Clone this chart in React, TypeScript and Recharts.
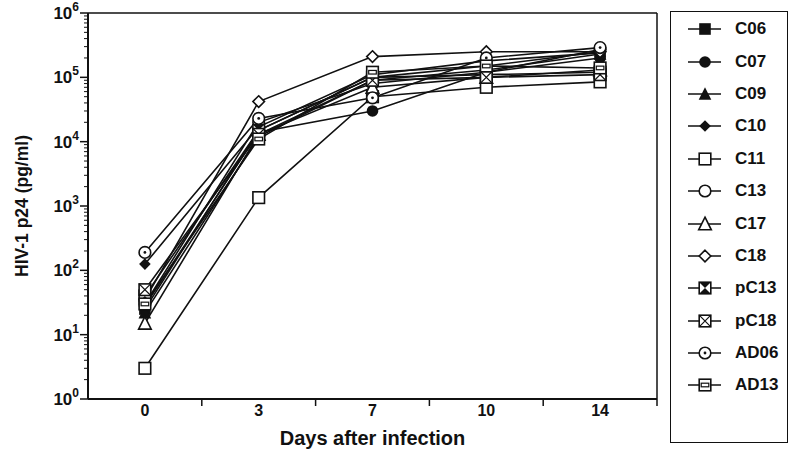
import React from "react"
import { LineChart, Line, XAxis, YAxis, ReferenceLine } from "recharts"

// days after infection (categories)
const DAYS = ["0", "3", "7", "10", "14"]

// HIV-1 p24 (pg/ml) per virus isolate
const C06 = [25, 15000, 100000, 150000, 250000]
const C07 = [28, 14000, 30000, 120000, 200000]
const C09 = [22, 12000, 90000, 130000, 230000]
const C10 = [125, 17000, 110000, 180000, 240000]
const C11 = [3, 1350, 50000, 70000, 85000]
const C13 = [30, 20000, 80000, 120000, 270000]
const C17 = [15, 13000, 70000, 100000, 130000]
const C18 = [35, 42000, 210000, 250000, 250000]
const pC13 = [40, 15000, 100000, 110000, 120000]
const pC18 = [50, 13000, 90000, 100000, 110000]
const AD06 = [190, 23000, 48000, 200000, 290000]
const AD13 = [30, 11000, 120000, 150000, 140000]

const SERIES: { name: string; values: number[]; marker: string }[] = [
  { name: "C06", values: C06, marker: "squareFilled" },
  { name: "C07", values: C07, marker: "circleFilled" },
  { name: "C09", values: C09, marker: "triangleFilled" },
  { name: "C10", values: C10, marker: "diamondFilled" },
  { name: "C11", values: C11, marker: "square" },
  { name: "C13", values: C13, marker: "circle" },
  { name: "C17", values: C17, marker: "triangle" },
  { name: "C18", values: C18, marker: "diamond" },
  { name: "pC13", values: pC13, marker: "hourglass" },
  { name: "pC18", values: pC18, marker: "squareX" },
  { name: "AD06", values: AD06, marker: "circleDot" },
  { name: "AD13", values: AD13, marker: "squareBar" },
]

const data = DAYS.map((d, i) => {
  const row: any = { i, day: d }
  SERIES.forEach((s) => (row[s.name] = s.values[i]))
  return row
})

// minor log ticks 2..9 x 10^k plus the decades
const yTicks: number[] = []
for (let e = 0; e < 6; e++) {
  for (let m = 1; m < 10; m++) yTicks.push(m * Math.pow(10, e))
}
yTicks.push(1000000)

const xTicks = [0, 0.5, 1, 1.5, 2, 2.5, 3, 3.5, 4, 4.5]

const FONT = "'Liberation Sans', Arial, Helvetica, sans-serif"
const INK = "#111"

function Marker({ kind, cx, cy }: { kind: string; cx: number; cy: number }) {
  const r = 5.8
  const sw = 1.6
  switch (kind) {
    case "squareFilled":
      return <rect x={cx - r} y={cy - r} width={2 * r} height={2 * r} fill={INK} />
    case "circleFilled":
      return <circle cx={cx} cy={cy} r={r} fill={INK} />
    case "triangleFilled":
      return <polygon points={`${cx},${cy - r - 1} ${cx + r + 0.5},${cy + r} ${cx - r - 0.5},${cy + r}`} fill={INK} />
    case "diamondFilled":
      return <polygon points={`${cx},${cy - r} ${cx + r},${cy} ${cx},${cy + r} ${cx - r},${cy}`} fill={INK} />
    case "square":
      return <rect x={cx - r} y={cy - r} width={2 * r} height={2 * r} fill="#fff" stroke={INK} strokeWidth={sw} />
    case "circle":
      return <circle cx={cx} cy={cy} r={r} fill="#fff" stroke={INK} strokeWidth={sw} />
    case "triangle":
      return <polygon points={`${cx},${cy - r - 1} ${cx + r + 0.5},${cy + r} ${cx - r - 0.5},${cy + r}`} fill="#fff" stroke={INK} strokeWidth={sw} />
    case "diamond":
      return <polygon points={`${cx},${cy - r} ${cx + r},${cy} ${cx},${cy + r} ${cx - r},${cy}`} fill="#fff" stroke={INK} strokeWidth={sw} />
    case "hourglass":
      return (
        <g>
          <rect x={cx - r} y={cy - r} width={2 * r} height={2 * r} fill="#fff" stroke={INK} strokeWidth={sw} />
          <polygon points={`${cx - r},${cy - r} ${cx + r},${cy - r} ${cx},${cy}`} fill={INK} />
          <polygon points={`${cx - r},${cy + r} ${cx + r},${cy + r} ${cx},${cy}`} fill={INK} />
        </g>
      )
    case "squareX":
      return (
        <g>
          <rect x={cx - r} y={cy - r} width={2 * r} height={2 * r} fill="#fff" stroke={INK} strokeWidth={sw} />
          <path d={`M${cx - r},${cy - r}L${cx + r},${cy + r}M${cx + r},${cy - r}L${cx - r},${cy + r}`} stroke={INK} strokeWidth={1.2} />
        </g>
      )
    case "circleDot":
      return (
        <g>
          <circle cx={cx} cy={cy} r={r} fill="#fff" stroke={INK} strokeWidth={sw} />
          <circle cx={cx} cy={cy} r={1.4} fill={INK} />
        </g>
      )
    case "squareBar":
      return (
        <g>
          <rect x={cx - r} y={cy - r} width={2 * r} height={2 * r} fill="#fff" stroke={INK} strokeWidth={sw} />
          <rect x={cx - r + 2} y={cy - 1.8} width={2 * r - 4} height={3.6} fill="#fff" stroke={INK} strokeWidth={1.2} />
        </g>
      )
  }
  return null
}

function YTick({ x, y, payload }: any) {
  const v = payload.value
  const lg = Math.log10(v)
  const e = Math.round(lg)
  const major = Math.abs(lg - e) < 1e-9
  if (!major) {
    return <line x1={x} x2={x - 4} y1={y} y2={y} stroke={INK} strokeWidth={1} />
  }
  return (
    <g>
      <line x1={x} x2={x - 8} y1={y} y2={y} stroke={INK} strokeWidth={1.5} />
      <text x={x - 9} y={y + 6} textAnchor="end" fontFamily={FONT} fontWeight="bold" fontSize={17} fill={INK}>
        10
        <tspan dy={-8} fontSize={12}>{e}</tspan>
      </text>
    </g>
  )
}

function XTick({ x, y, payload }: any) {
  const v = payload.value
  if (Number.isInteger(v)) {
    return (
      <text x={x} y={y + 17} textAnchor="middle" fontFamily={FONT} fontWeight="bold" fontSize={16} fill={INK}>
        {DAYS[v]}
      </text>
    )
  }
  return <line x1={x} x2={x} y1={y} y2={y + 7} stroke={INK} strokeWidth={1.5} />
}

function LegendBox() {
  return (
    <div
      style={{
        position: "absolute",
        left: 670,
        top: 11,
        width: 118,
        height: 432,
        border: `1.5px solid ${INK}`,
        boxSizing: "border-box",
        paddingTop: 1,
        fontFamily: FONT,
        fontWeight: "bold",
        fontSize: 17,
        color: INK,
        background: "#fff",
      }}
    >
      {SERIES.map((s) => (
        <div key={s.name} style={{ height: 32.4, display: "flex", alignItems: "center" }}>
          <svg width={62} height={18} style={{ flex: "none" }}>
            <line x1={17} x2={50} y1={9} y2={9} stroke={INK} strokeWidth={1.6} />
            <Marker kind={s.marker} cx={34} cy={9} />
          </svg>
          <span style={{ marginLeft: 2 }}>{s.name}</span>
        </div>
      ))}
    </div>
  )
}

export default function App() {
  return (
    <div style={{ position: "absolute", left: 0, top: 0, width: 800, height: 457, background: "#fff" }}>
      <LineChart width={800} height={457} data={data} margin={{ top: 13, right: 143, bottom: 0, left: 0 }}>
        <XAxis
          dataKey="i"
          type="number"
          domain={[-0.5, 4.5]}
          ticks={xTicks}
          interval={0}
          tick={<XTick />}
          tickLine={false}
          tickSize={0}
          tickMargin={0}
          height={58}
          axisLine={{ stroke: INK, strokeWidth: 2 }}
          label={{
            value: "Days after infection",
            position: "insideBottom",
            offset: 12,
            style: { fontFamily: FONT, fontWeight: "bold", fontSize: 20, fill: INK },
          }}
        />
        <YAxis
          scale="log"
          domain={[1, 1000000]}
          allowDataOverflow
          ticks={yTicks}
          interval={0}
          tick={<YTick />}
          tickLine={false}
          tickSize={0}
          tickMargin={0}
          width={88}
          axisLine={{ stroke: INK, strokeWidth: 2 }}
          label={{
            value: "HIV-1 p24 (pg/ml)",
            angle: -90,
            position: "insideLeft",
            offset: 22,
            style: { fontFamily: FONT, fontWeight: "bold", fontSize: 17.5, fill: INK, textAnchor: "middle" },
          }}
        />
        <ReferenceLine y={1000000} stroke={INK} strokeWidth={1.5} />
        <ReferenceLine x={4.5} stroke={INK} strokeWidth={1.5} />
        {SERIES.map((s) => (
          <Line
            key={s.name}
            dataKey={s.name}
            stroke={INK}
            strokeWidth={1.6}
            isAnimationActive={false}
            dot={(p: any) => <Marker key={`${s.name}-${p.index}`} kind={s.marker} cx={p.cx} cy={p.cy} />}
            activeDot={false}
          />
        ))}
      </LineChart>
      <LegendBox />
    </div>
  )
}
